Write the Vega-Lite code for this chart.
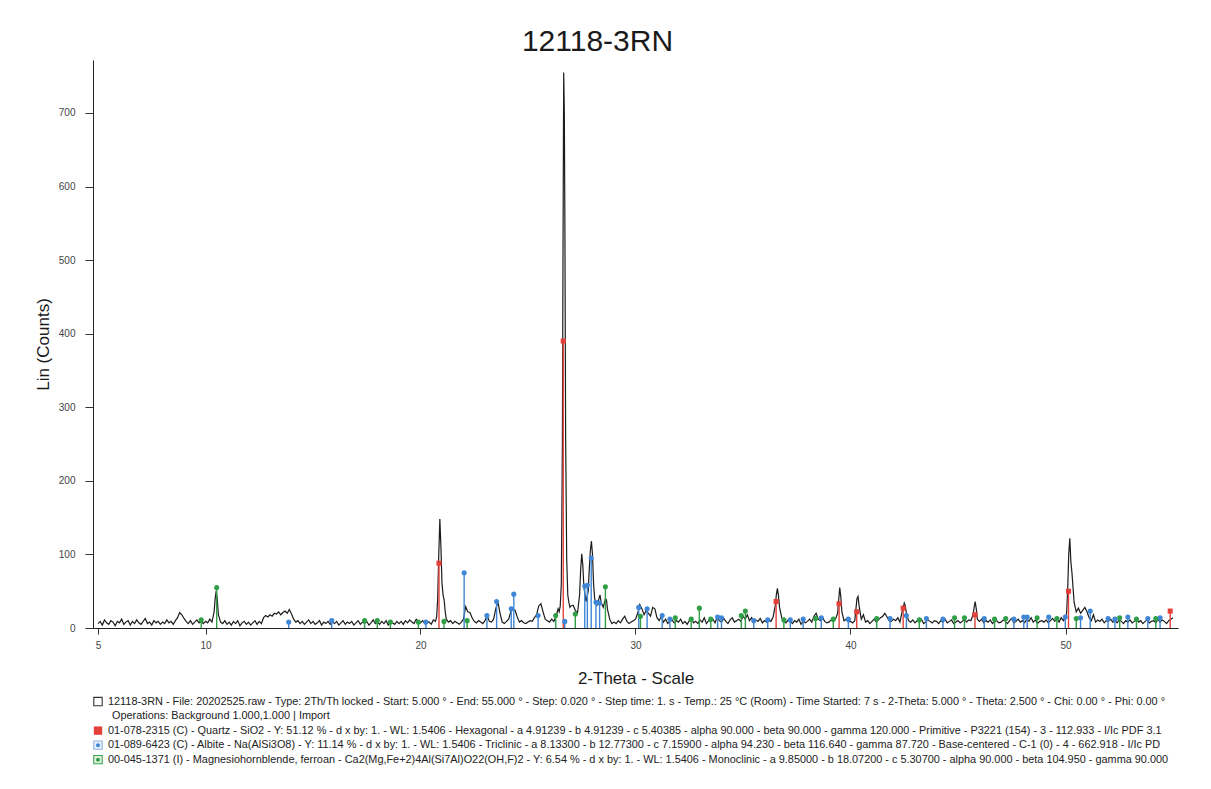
{
"$schema": "https://vega.github.io/schema/vega-lite/v6.json",
"width": 1085, "height": 568,
"padding": {"left": 34, "top": 27, "right": 33, "bottom": 10},
"config": {"view": {"stroke": null}},
"title": {"text": "12118-3RN", "fontSize": 30, "fontWeight": "normal", "font": "Liberation Sans", "color": "#1a1a1a", "offset": 3, "dx": -38},
"data": {"values": [
{"t":5.0,"c":6},{"t":5.1,"c":9},{"t":5.2,"c":4},{"t":5.3,"c":11},{"t":5.4,"c":7},{"t":5.5,"c":5},{"t":5.6,"c":10},{"t":5.7,"c":8},{"t":5.8,"c":3},{"t":5.9,"c":9},
{"t":6.0,"c":7},{"t":6.1,"c":12},{"t":6.2,"c":5},{"t":6.3,"c":8},{"t":6.4,"c":10},{"t":6.5,"c":4},{"t":6.6,"c":9},{"t":6.7,"c":6},{"t":6.8,"c":11},{"t":6.9,"c":7},
{"t":7.0,"c":5},{"t":7.1,"c":9},{"t":7.2,"c":13},{"t":7.3,"c":6},{"t":7.4,"c":8},{"t":7.5,"c":4},{"t":7.6,"c":10},{"t":7.7,"c":7},{"t":7.8,"c":9},{"t":7.9,"c":5},
{"t":8.0,"c":8},{"t":8.1,"c":6},{"t":8.2,"c":11},{"t":8.3,"c":7},{"t":8.4,"c":9},{"t":8.5,"c":5},{"t":8.6,"c":10},{"t":8.7,"c":14},{"t":8.8,"c":21},{"t":8.9,"c":18},
{"t":9.0,"c":13},{"t":9.1,"c":9},{"t":9.2,"c":6},{"t":9.3,"c":10},{"t":9.4,"c":5},{"t":9.5,"c":8},{"t":9.6,"c":11},{"t":9.7,"c":7},{"t":9.8,"c":9},{"t":9.9,"c":6},
{"t":10.0,"c":9},{"t":10.1,"c":7},{"t":10.2,"c":12},{"t":10.3,"c":8},{"t":10.4,"c":22},{"t":10.45,"c":40},{"t":10.5,"c":51},{"t":10.55,"c":38},{"t":10.6,"c":18},{"t":10.7,"c":8},{"t":10.8,"c":6},{"t":10.9,"c":10},
{"t":11.0,"c":5},{"t":11.1,"c":8},{"t":11.2,"c":4},{"t":11.3,"c":9},{"t":11.4,"c":6},{"t":11.5,"c":10},{"t":11.6,"c":3},{"t":11.7,"c":7},{"t":11.8,"c":9},{"t":11.9,"c":5},
{"t":12.0,"c":8},{"t":12.1,"c":4},{"t":12.2,"c":7},{"t":12.3,"c":10},{"t":12.4,"c":5},{"t":12.5,"c":9},{"t":12.6,"c":6},{"t":12.7,"c":14},{"t":12.8,"c":17},{"t":12.9,"c":15},
{"t":13.0,"c":18},{"t":13.1,"c":16},{"t":13.2,"c":20},{"t":13.3,"c":19},{"t":13.4,"c":22},{"t":13.5,"c":18},{"t":13.6,"c":21},{"t":13.7,"c":23},{"t":13.8,"c":20},{"t":13.9,"c":25},
{"t":14.0,"c":19},{"t":14.1,"c":12},{"t":14.2,"c":8},{"t":14.3,"c":10},{"t":14.4,"c":6},{"t":14.5,"c":9},{"t":14.6,"c":5},{"t":14.7,"c":8},{"t":14.8,"c":11},{"t":14.9,"c":6},
{"t":15.0,"c":9},{"t":15.1,"c":5},{"t":15.2,"c":7},{"t":15.3,"c":10},{"t":15.4,"c":4},{"t":15.5,"c":8},{"t":15.6,"c":6},{"t":15.7,"c":9},{"t":15.8,"c":5},{"t":15.9,"c":8},
{"t":16.0,"c":6},{"t":16.1,"c":9},{"t":16.2,"c":4},{"t":16.3,"c":7},{"t":16.4,"c":10},{"t":16.5,"c":5},{"t":16.6,"c":8},{"t":16.7,"c":6},{"t":16.8,"c":9},{"t":16.9,"c":4},
{"t":17.0,"c":7},{"t":17.1,"c":10},{"t":17.2,"c":5},{"t":17.3,"c":8},{"t":17.4,"c":6},{"t":17.5,"c":9},{"t":17.6,"c":4},{"t":17.7,"c":7},{"t":17.8,"c":11},{"t":17.9,"c":6},
{"t":18.0,"c":8},{"t":18.1,"c":5},{"t":18.2,"c":9},{"t":18.3,"c":6},{"t":18.4,"c":10},{"t":18.5,"c":4},{"t":18.6,"c":8},{"t":18.7,"c":7},{"t":18.8,"c":5},{"t":18.9,"c":9},
{"t":19.0,"c":6},{"t":19.1,"c":9},{"t":19.2,"c":5},{"t":19.3,"c":10},{"t":19.4,"c":7},{"t":19.5,"c":11},{"t":19.6,"c":8},{"t":19.7,"c":6},{"t":19.8,"c":12},{"t":19.9,"c":9},
{"t":20.0,"c":7},{"t":20.1,"c":10},{"t":20.2,"c":6},{"t":20.3,"c":9},{"t":20.4,"c":8},{"t":20.5,"c":5},{"t":20.6,"c":11},{"t":20.7,"c":9},{"t":20.75,"c":15},{"t":20.8,"c":40},{"t":20.85,"c":100},{"t":20.9,"c":148},{"t":20.95,"c":110},{"t":21.0,"c":60},{"t":21.05,"c":45},{"t":21.1,"c":38},{"t":21.15,"c":22},{"t":21.2,"c":12},{"t":21.3,"c":8},{"t":21.4,"c":10},{"t":21.5,"c":6},{"t":21.6,"c":9},{"t":21.7,"c":7},{"t":21.8,"c":5},{"t":21.9,"c":8},
{"t":22.0,"c":12},{"t":22.1,"c":29},{"t":22.2,"c":22},{"t":22.3,"c":21},{"t":22.4,"c":14},{"t":22.5,"c":9},{"t":22.6,"c":7},{"t":22.7,"c":10},{"t":22.8,"c":8},{"t":22.9,"c":6},
{"t":23.0,"c":10},{"t":23.1,"c":17},{"t":23.2,"c":9},{"t":23.3,"c":8},{"t":23.4,"c":12},{"t":23.5,"c":26},{"t":23.6,"c":36},{"t":23.7,"c":20},{"t":23.8,"c":8},{"t":23.9,"c":6},
{"t":24.0,"c":9},{"t":24.1,"c":12},{"t":24.2,"c":22},{"t":24.3,"c":26},{"t":24.4,"c":24},{"t":24.5,"c":15},{"t":24.6,"c":8},{"t":24.7,"c":10},{"t":24.8,"c":7},{"t":24.9,"c":6},
{"t":25.0,"c":8},{"t":25.1,"c":10},{"t":25.2,"c":9},{"t":25.3,"c":14},{"t":25.4,"c":18},{"t":25.5,"c":30},{"t":25.6,"c":33},{"t":25.7,"c":22},{"t":25.8,"c":12},{"t":25.9,"c":10},
{"t":26.0,"c":8},{"t":26.1,"c":12},{"t":26.2,"c":9},{"t":26.3,"c":15},{"t":26.4,"c":26},{"t":26.45,"c":22},{"t":26.5,"c":30},{"t":26.55,"c":60},{"t":26.6,"c":250},{"t":26.63,"c":520},{"t":26.66,"c":755},{"t":26.69,"c":700},{"t":26.72,"c":520},{"t":26.75,"c":260},{"t":26.8,"c":95},{"t":26.85,"c":45},{"t":26.9,"c":35},{"t":26.95,"c":28},
{"t":27.0,"c":30},{"t":27.1,"c":31},{"t":27.2,"c":24},{"t":27.3,"c":20},{"t":27.4,"c":45},{"t":27.45,"c":80},{"t":27.5,"c":101},{"t":27.55,"c":85},{"t":27.6,"c":55},{"t":27.7,"c":36},{"t":27.8,"c":50},{"t":27.85,"c":80},{"t":27.9,"c":105},{"t":27.95,"c":118},{"t":28.0,"c":100},{"t":28.05,"c":60},{"t":28.1,"c":40},{"t":28.2,"c":31},{"t":28.3,"c":40},{"t":28.35,"c":45},{"t":28.4,"c":35},{"t":28.5,"c":28},{"t":28.6,"c":40},{"t":28.65,"c":38},{"t":28.7,"c":25},{"t":28.8,"c":12},{"t":28.9,"c":6},
{"t":29.0,"c":8},{"t":29.1,"c":6},{"t":29.2,"c":10},{"t":29.3,"c":7},{"t":29.4,"c":12},{"t":29.5,"c":16},{"t":29.6,"c":9},{"t":29.7,"c":6},{"t":29.8,"c":8},{"t":29.9,"c":10},
{"t":30.0,"c":12},{"t":30.1,"c":20},{"t":30.2,"c":32},{"t":30.3,"c":26},{"t":30.4,"c":18},{"t":30.5,"c":24},{"t":30.6,"c":20},{"t":30.7,"c":16},{"t":30.8,"c":28},{"t":30.9,"c":26},
{"t":31.0,"c":14},{"t":31.1,"c":10},{"t":31.2,"c":16},{"t":31.3,"c":8},{"t":31.4,"c":12},{"t":31.5,"c":6},{"t":31.6,"c":9},{"t":31.7,"c":11},{"t":31.8,"c":7},{"t":31.9,"c":10},
{"t":32.0,"c":8},{"t":32.1,"c":12},{"t":32.2,"c":6},{"t":32.3,"c":9},{"t":32.4,"c":5},{"t":32.5,"c":10},{"t":32.6,"c":13},{"t":32.7,"c":7},{"t":32.8,"c":9},{"t":32.9,"c":6},
{"t":33.0,"c":11},{"t":33.1,"c":8},{"t":33.2,"c":14},{"t":33.3,"c":6},{"t":33.4,"c":10},{"t":33.5,"c":9},{"t":33.6,"c":12},{"t":33.7,"c":7},{"t":33.8,"c":15},{"t":33.9,"c":10},
{"t":34.0,"c":8},{"t":34.1,"c":13},{"t":34.2,"c":9},{"t":34.3,"c":6},{"t":34.4,"c":11},{"t":34.5,"c":14},{"t":34.6,"c":8},{"t":34.7,"c":10},{"t":34.8,"c":12},{"t":34.9,"c":9},
{"t":35.0,"c":16},{"t":35.1,"c":12},{"t":35.2,"c":18},{"t":35.3,"c":10},{"t":35.4,"c":14},{"t":35.5,"c":8},{"t":35.6,"c":11},{"t":35.7,"c":9},{"t":35.8,"c":13},{"t":35.9,"c":7},
{"t":36.0,"c":10},{"t":36.1,"c":8},{"t":36.2,"c":12},{"t":36.3,"c":9},{"t":36.4,"c":15},{"t":36.5,"c":30},{"t":36.55,"c":45},{"t":36.6,"c":54},{"t":36.65,"c":44},{"t":36.7,"c":28},{"t":36.8,"c":14},{"t":36.9,"c":9},
{"t":37.0,"c":7},{"t":37.1,"c":11},{"t":37.2,"c":9},{"t":37.3,"c":6},{"t":37.4,"c":10},{"t":37.5,"c":8},{"t":37.6,"c":12},{"t":37.7,"c":5},{"t":37.8,"c":9},{"t":37.9,"c":7},
{"t":38.0,"c":9},{"t":38.1,"c":12},{"t":38.2,"c":8},{"t":38.3,"c":16},{"t":38.4,"c":20},{"t":38.5,"c":12},{"t":38.6,"c":10},{"t":38.7,"c":14},{"t":38.8,"c":9},{"t":38.9,"c":7},
{"t":39.0,"c":8},{"t":39.1,"c":11},{"t":39.2,"c":9},{"t":39.3,"c":12},{"t":39.4,"c":20},{"t":39.45,"c":38},{"t":39.5,"c":55},{"t":39.55,"c":42},{"t":39.6,"c":22},{"t":39.7,"c":10},{"t":39.8,"c":12},{"t":39.9,"c":8},
{"t":40.0,"c":9},{"t":40.1,"c":7},{"t":40.2,"c":10},{"t":40.25,"c":25},{"t":40.3,"c":40},{"t":40.35,"c":43},{"t":40.4,"c":30},{"t":40.5,"c":12},{"t":40.6,"c":18},{"t":40.7,"c":8},{"t":40.8,"c":10},{"t":40.9,"c":6},
{"t":41.0,"c":9},{"t":41.1,"c":12},{"t":41.2,"c":8},{"t":41.3,"c":11},{"t":41.4,"c":14},{"t":41.5,"c":16},{"t":41.6,"c":20},{"t":41.7,"c":15},{"t":41.8,"c":10},{"t":41.9,"c":9},
{"t":42.0,"c":12},{"t":42.1,"c":10},{"t":42.2,"c":14},{"t":42.3,"c":8},{"t":42.4,"c":22},{"t":42.5,"c":34},{"t":42.55,"c":30},{"t":42.6,"c":20},{"t":42.7,"c":10},{"t":42.8,"c":8},{"t":42.9,"c":11},
{"t":43.0,"c":7},{"t":43.1,"c":10},{"t":43.2,"c":9},{"t":43.3,"c":12},{"t":43.4,"c":6},{"t":43.5,"c":8},{"t":43.6,"c":11},{"t":43.7,"c":9},{"t":43.8,"c":7},{"t":43.9,"c":10},
{"t":44.0,"c":9},{"t":44.1,"c":6},{"t":44.2,"c":10},{"t":44.3,"c":8},{"t":44.4,"c":12},{"t":44.5,"c":7},{"t":44.6,"c":9},{"t":44.7,"c":11},{"t":44.8,"c":6},{"t":44.9,"c":8},
{"t":45.0,"c":10},{"t":45.1,"c":7},{"t":45.2,"c":9},{"t":45.3,"c":12},{"t":45.4,"c":8},{"t":45.5,"c":11},{"t":45.6,"c":10},{"t":45.7,"c":18},{"t":45.75,"c":28},{"t":45.8,"c":36},{"t":45.85,"c":26},{"t":45.9,"c":12},
{"t":46.0,"c":9},{"t":46.1,"c":12},{"t":46.2,"c":7},{"t":46.3,"c":10},{"t":46.4,"c":8},{"t":46.5,"c":11},{"t":46.6,"c":6},{"t":46.7,"c":9},{"t":46.8,"c":10},{"t":46.9,"c":7},
{"t":47.0,"c":8},{"t":47.1,"c":11},{"t":47.2,"c":9},{"t":47.3,"c":6},{"t":47.4,"c":10},{"t":47.5,"c":13},{"t":47.6,"c":7},{"t":47.7,"c":9},{"t":47.8,"c":12},{"t":47.9,"c":8},
{"t":48.0,"c":10},{"t":48.1,"c":7},{"t":48.2,"c":12},{"t":48.3,"c":9},{"t":48.4,"c":14},{"t":48.5,"c":8},{"t":48.6,"c":11},{"t":48.7,"c":6},{"t":48.8,"c":9},{"t":48.9,"c":10},
{"t":49.0,"c":8},{"t":49.1,"c":11},{"t":49.2,"c":7},{"t":49.3,"c":10},{"t":49.4,"c":13},{"t":49.5,"c":9},{"t":49.6,"c":12},{"t":49.7,"c":8},{"t":49.8,"c":14},{"t":49.9,"c":10},
{"t":50.0,"c":14},{"t":50.05,"c":20},{"t":50.1,"c":50},{"t":50.15,"c":100},{"t":50.2,"c":122},{"t":50.25,"c":90},{"t":50.3,"c":75},{"t":50.35,"c":55},{"t":50.4,"c":35},{"t":50.5,"c":22},{"t":50.6,"c":27},{"t":50.7,"c":20},{"t":50.8,"c":24},{"t":50.9,"c":28},
{"t":51.0,"c":22},{"t":51.1,"c":14},{"t":51.2,"c":10},{"t":51.3,"c":18},{"t":51.4,"c":8},{"t":51.5,"c":11},{"t":51.6,"c":9},{"t":51.7,"c":12},{"t":51.8,"c":7},{"t":51.9,"c":10},
{"t":52.0,"c":9},{"t":52.1,"c":12},{"t":52.2,"c":8},{"t":52.3,"c":10},{"t":52.4,"c":7},{"t":52.5,"c":11},{"t":52.6,"c":9},{"t":52.7,"c":6},{"t":52.8,"c":10},{"t":52.9,"c":8},
{"t":53.0,"c":11},{"t":53.1,"c":7},{"t":53.2,"c":9},{"t":53.3,"c":12},{"t":53.4,"c":8},{"t":53.5,"c":10},{"t":53.6,"c":6},{"t":53.7,"c":9},{"t":53.8,"c":11},{"t":53.9,"c":7},
{"t":54.0,"c":9},{"t":54.1,"c":10},{"t":54.2,"c":7},{"t":54.3,"c":12},{"t":54.4,"c":8},{"t":54.5,"c":11},{"t":54.6,"c":9},{"t":54.7,"c":6},{"t":54.8,"c":10},{"t":54.9,"c":12},{"t":55.0,"c":14}
]},
"layer": [
{"mark": {"type": "line", "color": "#1c1c1c", "strokeWidth": 1.2},
 "encoding": {
  "x": {"field": "t", "type": "quantitative", "scale": {"domain": [5, 55], "nice": false, "zero": false},
   "axis": {"values": [5,10,20,30,40,50], "tickSize": 6, "tickColor": "#333", "domain": true, "domainColor": "#222", "grid": false, "labelFont": "Liberation Sans", "labelFontSize": 10, "labelColor": "#444", "labelPadding": 6, "title": "2-Theta - Scale", "titleFont": "Liberation Sans", "titleFontSize": 17, "titleFontWeight": "normal", "titleColor": "#1a1a1a", "titlePadding": 20}},
  "y": {"field": "c", "type": "quantitative", "scale": {"domain": [0, 772], "nice": false, "zero": false},
   "axis": {"values": [0,100,200,300,400,500,600,700], "tickSize": 8, "tickColor": "#333", "domain": true, "domainColor": "#222", "grid": false, "labelFont": "Liberation Sans", "labelFontSize": 10, "labelColor": "#444", "labelPadding": 10, "title": "Lin (Counts)", "titleFont": "Liberation Sans", "titleFontSize": 17, "titleFontWeight": "normal", "titleColor": "#1a1a1a", "titlePadding": 6}}
 }},
{"data": {"values": [
{"p":"A","t":13.87,"h":8},{"p":"A","t":15.87,"h":10},{"p":"A","t":20.25,"h":8},{"p":"A","t":22.03,"h":75},{"p":"A","t":23.09,"h":17},{"p":"A","t":23.54,"h":36},{"p":"A","t":24.22,"h":26},{"p":"A","t":24.34,"h":46},{"p":"A","t":25.47,"h":17},{"p":"A","t":26.71,"h":9},{"p":"A","t":27.64,"h":57},{"p":"A","t":27.76,"h":58},{"p":"A","t":27.94,"h":95},{"p":"A","t":28.16,"h":35},{"p":"A","t":28.33,"h":34},{"p":"A","t":30.15,"h":28},{"p":"A","t":30.54,"h":26},{"p":"A","t":31.24,"h":17},{"p":"A","t":31.6,"h":12},{"p":"A","t":33.82,"h":15},{"p":"A","t":34.0,"h":14},{"p":"A","t":35.5,"h":10},{"p":"A","t":36.15,"h":11},{"p":"A","t":37.2,"h":11},{"p":"A","t":37.8,"h":12},{"p":"A","t":38.64,"h":14},{"p":"A","t":39.9,"h":12},{"p":"A","t":41.84,"h":13},{"p":"A","t":42.6,"h":17},{"p":"A","t":43.53,"h":13},{"p":"A","t":44.3,"h":12},{"p":"A","t":46.22,"h":13},{"p":"A","t":47.6,"h":12},{"p":"A","t":48.06,"h":15},{"p":"A","t":48.22,"h":15},{"p":"A","t":49.22,"h":15},{"p":"A","t":49.99,"h":15},{"p":"A","t":50.7,"h":14},{"p":"A","t":51.15,"h":23},{"p":"A","t":51.98,"h":13},{"p":"A","t":52.3,"h":12},{"p":"A","t":52.9,"h":15},{"p":"A","t":53.83,"h":13},{"p":"A","t":54.4,"h":14},
{"p":"H","t":9.8,"h":11},{"p":"H","t":10.52,"h":55},{"p":"H","t":17.4,"h":10},{"p":"H","t":17.99,"h":10},{"p":"H","t":18.6,"h":8},{"p":"H","t":19.9,"h":8},{"p":"H","t":21.09,"h":9},{"p":"H","t":22.17,"h":10},{"p":"H","t":26.29,"h":17},{"p":"H","t":27.2,"h":19},{"p":"H","t":28.6,"h":56},{"p":"H","t":30.23,"h":16},{"p":"H","t":31.85,"h":14},{"p":"H","t":32.59,"h":12},{"p":"H","t":32.97,"h":27},{"p":"H","t":33.5,"h":12},{"p":"H","t":34.92,"h":17},{"p":"H","t":35.11,"h":23},{"p":"H","t":36.9,"h":11},{"p":"H","t":38.38,"h":13},{"p":"H","t":39.2,"h":12},{"p":"H","t":41.22,"h":13},{"p":"H","t":43.2,"h":11},{"p":"H","t":44.84,"h":14},{"p":"H","t":45.3,"h":14},{"p":"H","t":46.7,"h":12},{"p":"H","t":47.22,"h":13},{"p":"H","t":48.68,"h":14},{"p":"H","t":49.6,"h":13},{"p":"H","t":50.5,"h":13},{"p":"H","t":52.52,"h":14},{"p":"H","t":53.3,"h":12},{"p":"H","t":54.2,"h":13},
{"p":"Q","t":20.86,"h":88},{"p":"Q","t":26.64,"h":390},{"p":"Q","t":36.54,"h":36},{"p":"Q","t":39.47,"h":33},{"p":"Q","t":40.29,"h":22},{"p":"Q","t":42.45,"h":27},{"p":"Q","t":45.79,"h":18},{"p":"Q","t":50.14,"h":50},{"p":"Q","t":54.87,"h":23}
]},
 "layer": [
  {"mark": {"type": "bar", "size": 1.4},
   "encoding": {
    "x": {"field": "t", "type": "quantitative"},
    "y": {"field": "h", "type": "quantitative"},
    "color": {"field": "p", "type": "nominal", "scale": {"domain": ["Q","A","H"], "range": ["#e4413b","#3f86d6","#2f9e44"]}, "legend": null}
   }},
  {"mark": {"type": "point", "filled": true, "opacity": 1, "size": 26},
   "encoding": {
    "x": {"field": "t", "type": "quantitative"},
    "y": {"field": "h", "type": "quantitative"},
    "color": {"field": "p", "type": "nominal", "scale": {"domain": ["Q","A","H"], "range": ["#e4413b","#3f86d6","#2f9e44"]}, "legend": null},
    "shape": {"field": "p", "type": "nominal", "scale": {"domain": ["Q","A","H"], "range": ["square","circle","circle"]}, "legend": null}
   }}
 ]},
{"data": {"values": [
{"line":1,"label":"12118-3RN - File: 20202525.raw - Type: 2Th/Th locked - Start: 5.000 ° - End: 55.000 ° - Step: 0.020 ° - Step time: 1. s - Temp.: 25 °C (Room) - Time Started: 7 s - 2-Theta: 5.000 ° - Theta: 2.500 ° - Chi: 0.00 ° - Phi: 0.00 °"},
{"line":2,"label":"Operations: Background 1.000,1.000 | Import"},
{"line":3,"label":"01-078-2315 (C) - Quartz - SiO2 - Y: 51.12 % - d x by: 1. - WL: 1.5406 - Hexagonal - a 4.91239 - b 4.91239 - c 5.40385 - alpha 90.000 - beta 90.000 - gamma 120.000 - Primitive - P3221 (154) - 3 - 112.933 - I/Ic PDF 3.1"},
{"line":4,"label":"01-089-6423 (C) - Albite - Na(AlSi3O8) - Y: 11.14 % - d x by: 1. - WL: 1.5406 - Triclinic - a 8.13300 - b 12.77300 - c 7.15900 - alpha 94.230 - beta 116.640 - gamma 87.720 - Base-centered - C-1 (0) - 4 - 662.918 - I/Ic PD"},
{"line":5,"label":"00-045-1371 (I) - Magnesiohornblende, ferroan - Ca2(Mg,Fe+2)4Al(Si7Al)O22(OH,F)2 - Y: 6.54 % - d x by: 1. - WL: 1.5406 - Monoclinic - a 9.85000 - b 18.07200 - c 5.30700 - alpha 90.000 - beta 104.950 - gamma 90.000"}
]},
 "layer": [
  {"transform": [{"filter": "datum.line == 1"}], "mark": {"type": "text", "align": "left", "baseline": "middle", "fontSize": 10.9, "font": "Liberation Sans", "color": "#222", "dx": 10},
   "encoding": {"x": {"datum": 5, "type": "quantitative"}, "y": {"datum": -100, "type": "quantitative"}, "text": {"field": "label", "type": "nominal"}}},
  {"transform": [{"filter": "datum.line == 2"}], "mark": {"type": "text", "align": "left", "baseline": "middle", "fontSize": 10.9, "font": "Liberation Sans", "color": "#222", "dx": 14},
   "encoding": {"x": {"datum": 5, "type": "quantitative"}, "y": {"datum": -119.7, "type": "quantitative"}, "text": {"field": "label", "type": "nominal"}}},
  {"transform": [{"filter": "datum.line == 3"}], "mark": {"type": "text", "align": "left", "baseline": "middle", "fontSize": 10.9, "font": "Liberation Sans", "color": "#222", "dx": 10},
   "encoding": {"x": {"datum": 5, "type": "quantitative"}, "y": {"datum": -139.5, "type": "quantitative"}, "text": {"field": "label", "type": "nominal"}}},
  {"transform": [{"filter": "datum.line == 4"}], "mark": {"type": "text", "align": "left", "baseline": "middle", "fontSize": 10.9, "font": "Liberation Sans", "color": "#222", "dx": 10},
   "encoding": {"x": {"datum": 5, "type": "quantitative"}, "y": {"datum": -159.2, "type": "quantitative"}, "text": {"field": "label", "type": "nominal"}}},
  {"transform": [{"filter": "datum.line == 5"}], "mark": {"type": "text", "align": "left", "baseline": "middle", "fontSize": 10.9, "font": "Liberation Sans", "color": "#222", "dx": 10},
   "encoding": {"x": {"datum": 5, "type": "quantitative"}, "y": {"datum": -178.9, "type": "quantitative"}, "text": {"field": "label", "type": "nominal"}}},
  {"transform": [{"filter": "datum.line == 1"}], "mark": {"type": "point", "shape": "square", "filled": false, "color": "#333", "size": 70, "strokeWidth": 1.1, "opacity": 1},
   "encoding": {"x": {"datum": 5, "type": "quantitative"}, "y": {"datum": -100, "type": "quantitative"}}},
  {"transform": [{"filter": "datum.line == 3"}], "mark": {"type": "point", "shape": "square", "filled": true, "color": "#e4413b", "size": 70, "opacity": 1},
   "encoding": {"x": {"datum": 5, "type": "quantitative"}, "y": {"datum": -139.5, "type": "quantitative"}}},
  {"transform": [{"filter": "datum.line == 4"}], "mark": {"type": "point", "shape": "square", "filled": true, "color": "#eaf1fb", "size": 70, "opacity": 1},
   "encoding": {"x": {"datum": 5, "type": "quantitative"}, "y": {"datum": -159.2, "type": "quantitative"}}},
  {"transform": [{"filter": "datum.line == 4"}], "mark": {"type": "point", "shape": "square", "filled": false, "color": "#8fb3e3", "size": 70, "strokeWidth": 1.1, "opacity": 1},
   "encoding": {"x": {"datum": 5, "type": "quantitative"}, "y": {"datum": -159.2, "type": "quantitative"}}},
  {"transform": [{"filter": "datum.line == 4"}], "mark": {"type": "point", "shape": "circle", "filled": true, "color": "#3f86d6", "size": 16, "opacity": 1},
   "encoding": {"x": {"datum": 5, "type": "quantitative"}, "y": {"datum": -159.2, "type": "quantitative"}}},
  {"transform": [{"filter": "datum.line == 5"}], "mark": {"type": "point", "shape": "square", "filled": true, "color": "#e3f3e3", "size": 70, "opacity": 1},
   "encoding": {"x": {"datum": 5, "type": "quantitative"}, "y": {"datum": -178.9, "type": "quantitative"}}},
  {"transform": [{"filter": "datum.line == 5"}], "mark": {"type": "point", "shape": "square", "filled": false, "color": "#3aa04a", "size": 70, "strokeWidth": 1.1, "opacity": 1},
   "encoding": {"x": {"datum": 5, "type": "quantitative"}, "y": {"datum": -178.9, "type": "quantitative"}}},
  {"transform": [{"filter": "datum.line == 5"}], "mark": {"type": "point", "shape": "circle", "filled": true, "color": "#2f9e44", "size": 16, "opacity": 1},
   "encoding": {"x": {"datum": 5, "type": "quantitative"}, "y": {"datum": -178.9, "type": "quantitative"}}}
 ]}
]
}
